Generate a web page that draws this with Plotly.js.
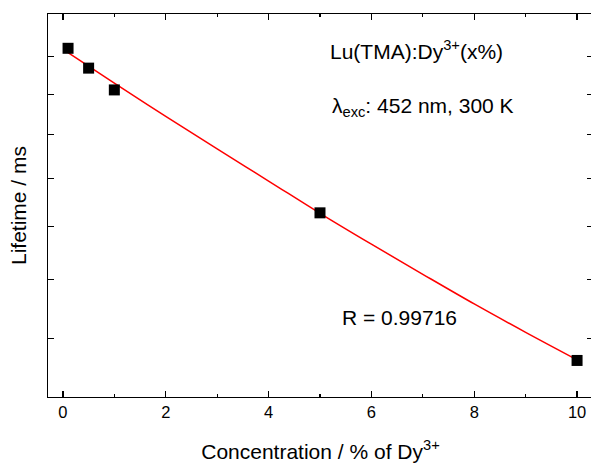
<!DOCTYPE html>
<html>
<head>
<meta charset="utf-8">
<script src="https://cdn.plot.ly/plotly-3.0.1.min.js"></script>
<style>
html, body { margin: 0; padding: 0; overflow: hidden; background: #fff; }
#chart { width: 600px; height: 463px; }
</style>
</head>
<body>
<div id="chart"></div>
<script>
// Measured data: Dy3+ concentration (%) vs lifetime (ms)
const concentration = [0.1, 0.5, 1, 5, 10];
const lifetime = [1.424, 1.369, 1.311, 1.027, 0.766];

// Fit curve
const fitConcentration = [0.1, 1, 2, 3, 4, 5, 6, 7, 8, 9, 10];
const fitLifetime = [1.412, 1.329, 1.244, 1.166, 1.094, 1.026, 0.965, 0.909, 0.857, 0.810, 0.767];

// Axis ticks
const xTickVals = [0, 2, 4, 6, 8, 10];
const xTickText = ['0', '2', '4', '6', '8', '10'];
const yTickVals = [0.8, 0.9, 1.0, 1.1, 1.2, 1.3, 1.4];

const font = 'Liberation Sans, Arial, sans-serif';

const traces = [
  {
    x: fitConcentration, y: fitLifetime,
    type: 'scatter', mode: 'lines',
    line: { color: '#ff0000', width: 1.5, shape: 'spline' },
    hoverinfo: 'skip', showlegend: false
  },
  {
    x: concentration, y: lifetime,
    type: 'scatter', mode: 'markers',
    marker: { symbol: 'square', size: 11, color: '#000000' },
    showlegend: false
  }
];

const layout = {
  width: 600, height: 463,
  margin: { l: 48, r: 7, t: 14, b: 66 },
  paper_bgcolor: '#ffffff', plot_bgcolor: '#ffffff',
  font: { family: font, size: 21, color: '#000000' },
  showlegend: false,
  xaxis: {
    range: [-0.29, 10.31],
    tickvals: xTickVals, ticktext: xTickText,
    ticks: 'inside', ticklen: 6, tickwidth: 1.2, tickcolor: '#000',
    minor: { dtick: 1, tick0: 0, ticks: 'inside', ticklen: 3, tickwidth: 1.2, tickcolor: '#000' },
    showline: true, linecolor: '#000', linewidth: 1.3, mirror: 'ticks',
    showgrid: false, zeroline: false,
    tickfont: { family: font, size: 16.5, color: '#000' },
    title: { text: 'Concentration / % of Dy<sup>3+</sup>', font: { family: font, size: 21, color: '#000' }, standoff: 26 }
  },
  yaxis: {
    type: 'log',
    range: [-0.1473, 0.1831],
    tickvals: yTickVals, showticklabels: false,
    ticks: 'inside', ticklen: 6, tickwidth: 1.2, tickcolor: '#000',
    showline: true, linecolor: '#000', linewidth: 1.3, mirror: 'ticks',
    showgrid: false, zeroline: false,
    title: { text: 'Lifetime / ms', font: { family: font, size: 21, color: '#000' }, standoff: 14 }
  },
  annotations: [
    { xref: 'paper', yref: 'paper', x: (416.5 - 48) / 545, y: (396.7 - 50) / 382.7,
      xanchor: 'center', yanchor: 'middle', showarrow: false,
      text: 'Lu(TMA):Dy<sup>3+</sup>(x%)', font: { family: font, size: 21, color: '#000' } },
    { xref: 'paper', yref: 'paper', x: (423 - 48) / 545, y: (396.7 - 107) / 382.7,
      xanchor: 'center', yanchor: 'middle', showarrow: false,
      text: 'λ<sub>exc</sub>: 452 nm, 300 K', font: { family: font, size: 21, color: '#000' } },
    { xref: 'paper', yref: 'paper', x: (399 - 48) / 545, y: (396.7 - 317) / 382.7,
      xanchor: 'center', yanchor: 'middle', showarrow: false,
      text: 'R = 0.99716', font: { family: font, size: 21, color: '#000' } }
  ]
};

Plotly.newPlot('chart', traces, layout, { displayModeBar: false, staticPlot: true });
</script>
</body>
</html>
